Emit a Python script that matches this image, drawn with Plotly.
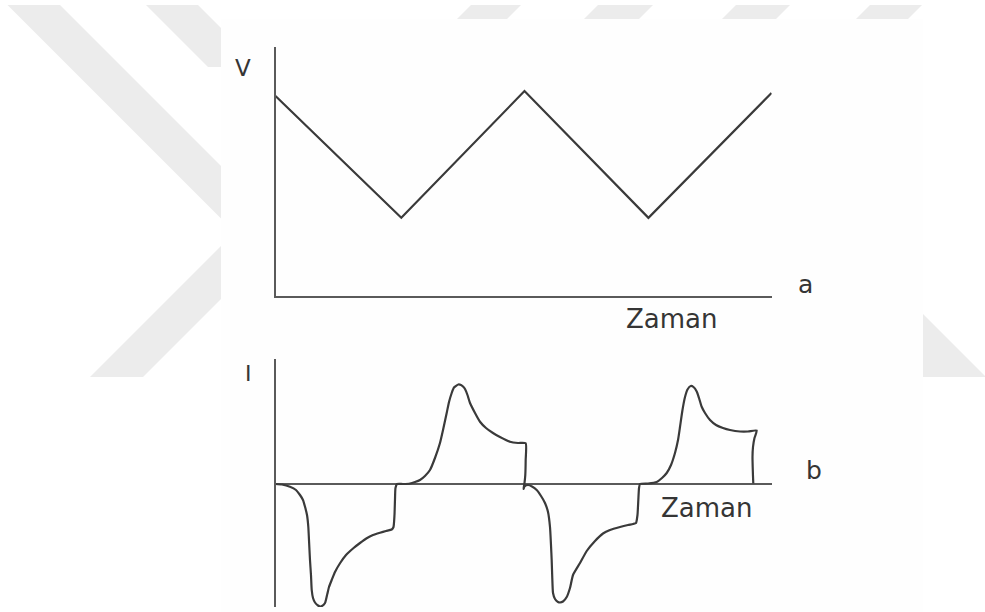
import plotly.graph_objects as go

# ---------------- data ----------------
# (a) applied potential: triangular sweep (time in s, potential normalised)
sweep_time = [0.0, 25.35, 50.18, 75.16, 99.96]
sweep_potential = [0.801, 0.312, 0.821, 0.312, 0.813]

# (b) resulting current response over the same time base (normalised)
current_time = [
    0.00, 1.31, 2.92, 4.13, 4.94, 5.54, 5.95, 6.35, 6.61, 6.75,
    6.95, 7.15, 7.30, 7.56, 7.96, 8.57, 8.97, 9.37, 9.98, 10.44,
    10.78, 11.33, 11.99, 13.00, 14.21, 15.68, 17.03, 18.38, 19.65, 21.06,
    22.27, 23.42, 23.78, 23.98, 24.08, 24.18, 24.49, 25.69, 27.11, 28.11,
    29.12, 30.12, 31.13, 32.14, 33.15, 33.76, 34.50, 34.97, 35.51, 35.97,
    36.84, 37.38, 37.79, 38.19, 38.69, 39.20, 40.21, 41.21, 42.42, 43.83,
    45.24, 47.26, 48.87, 50.42, 50.42, 50.34, 50.18, 49.98, 50.18, 50.89,
    51.69, 52.64, 53.51, 54.31, 54.92, 55.32, 55.52, 55.66, 55.78, 55.93,
    56.33, 56.93, 57.34, 57.94, 58.69, 59.35, 59.96, 61.37, 62.72, 64.39,
    66.00, 67.41, 69.43, 71.04, 72.05, 72.65, 72.95, 73.12, 73.26, 73.46,
    75.07, 76.82, 77.89, 78.84, 79.71, 80.51, 81.12, 81.52, 82.02, 82.53,
    83.03, 83.68, 84.24, 84.89, 85.35, 85.89, 86.56, 87.57, 88.78, 90.18,
    91.60, 93.61, 95.22, 96.98, 96.53, 96.23, 96.13, 96.17, 96.23, 96.29,
]
current_value = [
    0.000, -0.004, -0.022, -0.048, -0.088, -0.128, -0.182, -0.248, -0.342, -0.448,
    -0.608, -0.728, -0.848, -0.912, -0.948, -0.972, -0.980, -0.976, -0.952, -0.880,
    -0.824, -0.768, -0.704, -0.634, -0.568, -0.514, -0.472, -0.434, -0.408, -0.390,
    -0.376, -0.364, -0.344, -0.248, -0.128, -0.032, 0.000, 0.000, 0.004, 0.016,
    0.032, 0.064, 0.112, 0.208, 0.328, 0.432, 0.568, 0.656, 0.728, 0.772,
    0.796, 0.792, 0.780, 0.760, 0.712, 0.648, 0.568, 0.498, 0.448, 0.408,
    0.376, 0.338, 0.328, 0.326, 0.192, 0.072, 0.008, -0.040, -0.020, -0.008,
    -0.020, -0.048, -0.096, -0.152, -0.224, -0.344, -0.488, -0.608, -0.752, -0.872,
    -0.920, -0.944, -0.948, -0.940, -0.904, -0.832, -0.728, -0.632, -0.536, -0.456,
    -0.396, -0.368, -0.344, -0.328, -0.320, -0.312, -0.248, -0.128, -0.032, 0.000,
    0.004, 0.016, 0.048, 0.088, 0.152, 0.248, 0.352, 0.456, 0.592, 0.696,
    0.756, 0.784, 0.776, 0.740, 0.688, 0.618, 0.568, 0.512, 0.472, 0.448,
    0.432, 0.420, 0.420, 0.428, 0.368, 0.296, 0.216, 0.136, 0.064, 0.004,
]

# ---------------- styling ----------------
W, H = 985, 612
CURVE = "#3a3a3a"
AXIS = "#5a5a5a"
TEXT = "#353535"
WATERMARK = "#ececec"
FONT = "DejaVu Sans"


def fx(x):
    return x / W


def fy(y):
    return 1 - y / H


def poly(points):
    return "M " + " L ".join(f"{fx(x):.5f},{fy(y):.5f}" for x, y in points) + " Z"


fig = go.Figure()

fig.add_trace(go.Scatter(
    x=sweep_time, y=sweep_potential, mode="lines",
    line=dict(color=CURVE, width=2.2), xaxis="x", yaxis="y",
    showlegend=False, hoverinfo="skip",
))
fig.add_trace(go.Scatter(
    x=current_time, y=current_value, mode="lines",
    line=dict(color=CURVE, width=2.2, shape="spline", smoothing=0.5),
    xaxis="x2", yaxis="y2", showlegend=False, hoverinfo="skip",
))

x_dom = [fx(275.5), fx(771.7)]
hidden = dict(showticklabels=False, ticks="", showgrid=False, zeroline=False)

# background decoration: light diagonal bands, partly covered by the figure panel
bands = [
    [(7.5, 5), (60, 5), (330, 275), (277.5, 275)],
    [(146, 5), (198, 5), (260, 67), (208, 67)],
    [(90, 377), (143, 377), (300, 220), (247, 220)],
    [(860, 251), (986, 377), (860, 377)],
    [(471, 5), (521, 5), (496, 30), (446, 30)],
    [(598, 5), (653, 5), (628, 30), (573, 30)],
    [(736, 5), (790, 5), (765, 30), (711, 30)],
    [(870, 5), (922, 5), (897, 30), (845, 30)],
]
shapes = [
    dict(type="path", path=poly(b), xref="paper", yref="paper",
         fillcolor=WATERMARK, line=dict(width=0), layer="below")
    for b in bands
]
shapes.append(dict(type="rect", xref="paper", yref="paper",
                   x0=fx(221), x1=fx(923), y0=fy(612), y1=fy(19),
                   fillcolor="#fefefe", line=dict(width=0), layer="below"))

annotations = [
    dict(text="V", x=fx(242.5), y=fy(68), size=23),
    dict(text="a", x=fx(805.5), y=fy(284), size=25),
    dict(text="Zaman", x=fx(671), y=fy(318.5), size=26),
    dict(text="I", x=fx(248.5), y=fy(373.5), size=22),
    dict(text="b", x=fx(814), y=fy(470), size=25),
    dict(text="Zaman", x=fx(706), y=fy(507.5), size=26),
]
annotations = [
    dict(text=a["text"], x=a["x"], y=a["y"], xref="paper", yref="paper",
         xanchor="center", yanchor="middle", showarrow=False,
         font=dict(family=FONT, size=a["size"], color=TEXT))
    for a in annotations
]

fig.update_layout(
    width=W, height=H,
    margin=dict(l=0, r=0, t=0, b=0),
    paper_bgcolor="white",
    plot_bgcolor="rgba(0,0,0,0)",
    shapes=shapes,
    annotations=annotations,
    xaxis=dict(domain=x_dom, range=[0, 100], anchor="y",
               showline=True, linecolor=AXIS, linewidth=2, **hidden),
    yaxis=dict(domain=[fy(295.5), fy(46.5)], range=[0, 1], anchor="x",
               showline=True, linecolor=AXIS, linewidth=2, **hidden),
    xaxis2=dict(domain=x_dom, range=[0, 100], anchor="y2",
                showline=False, **hidden),
    yaxis2=dict(domain=[fy(607), fy(359)], range=[-0.984, 1.0], anchor="x2",
                showline=True, linecolor=AXIS, linewidth=2,
                showticklabels=False, ticks="", showgrid=False,
                zeroline=True, zerolinecolor=AXIS, zerolinewidth=1.5),
)

fig.write_html("out.html")
